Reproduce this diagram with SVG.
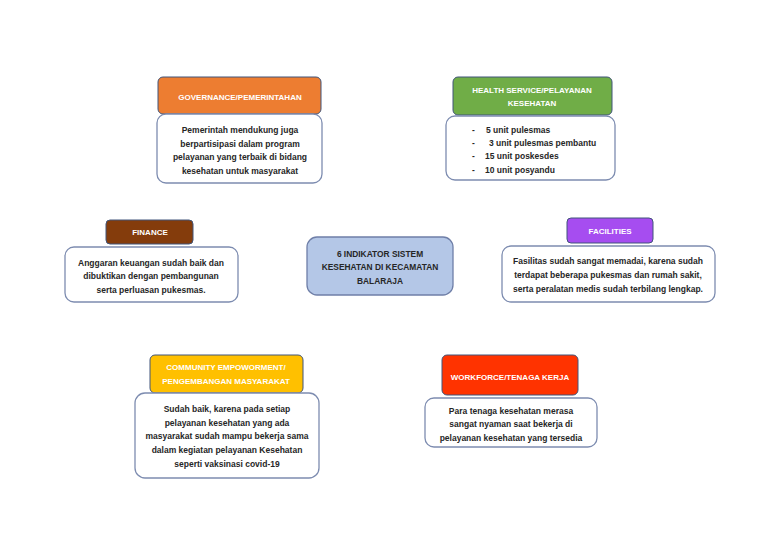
<svg xmlns="http://www.w3.org/2000/svg" width="768" height="543" viewBox="0 0 768 543">
<style>
.hd{stroke:#41557a;stroke-width:1}
.bd{fill:#fff;stroke:#7d8cb0;stroke-width:1.3}
.ht{font-family:"Liberation Sans",Arial,sans-serif;font-size:8px;fill:#fff;text-anchor:middle;font-weight:bold}
.bt{font-family:"Liberation Sans",Arial,sans-serif;font-size:8.5px;fill:#262626;text-anchor:middle;font-weight:bold}
.bl{font-family:"Liberation Sans",Arial,sans-serif;font-size:8.5px;fill:#262626;font-weight:bold}
.ct{font-family:"Liberation Sans",Arial,sans-serif;font-size:8.4px;fill:#262626;text-anchor:middle;font-weight:bold}
</style>
<rect width="768" height="543" fill="#fff"/>
<g id="connectors"></g>
<g id="governance">
<rect class="hd" x="158" y="77" width="163" height="37" rx="5" fill="#ed7d31"/>
<text class="ht" x="240" y="100">GOVERNANCE/PEMERINTAHAN</text>
<rect class="bd" x="157" y="114" width="165" height="69" rx="9"/>
<text class="bt" x="240" y="133">Pemerintah mendukung juga</text>
<text class="bt" x="240" y="147">berpartisipasi dalam program</text>
<text class="bt" x="240" y="160">pelayanan yang terbaik di bidang</text>
<text class="bt" x="240" y="174">kesehatan untuk masyarakat</text>
</g>
<g id="health">
<rect class="hd" x="453" y="77" width="159" height="38" rx="5" fill="#70ad47"/>
<text class="ht" x="532" y="93">HEALTH SERVICE/PELAYANAN</text>
<text class="ht" x="532" y="106">KESEHATAN</text>
<rect class="bd" x="446" y="116" width="169" height="64" rx="9"/>
<text class="bl" x="472" y="133">-</text><text class="bl" x="486" y="133">5 unit pulesmas</text>
<text class="bl" x="472" y="146">-</text><text class="bl" x="489" y="146">3 unit pulesmas pembantu</text>
<text class="bl" x="472" y="159">-</text><text class="bl" x="485" y="159">15 unit poskesdes</text>
<text class="bl" x="472" y="173">-</text><text class="bl" x="485" y="173">10 unit posyandu</text>
</g>
<g id="finance">
<rect class="hd" x="106" y="220" width="87" height="24" rx="4" fill="#843c0c"/>
<text class="ht" x="150" y="235">FINANCE</text>
<rect class="bd" x="65" y="247" width="173" height="55" rx="9"/>
<text class="bt" x="151" y="266">Anggaran keuangan sudah baik dan</text>
<text class="bt" x="151" y="279">dibuktikan dengan pembangunan</text>
<text class="bt" x="151" y="293">serta perluasan pukesmas.</text>
</g>
<g id="center">
<rect x="307" y="237" width="146" height="58" rx="10" fill="#b4c7e7" stroke="#6f7fa8" stroke-width="1.3"/>
<text class="ct" x="380" y="257">6 INDIKATOR SISTEM</text>
<text class="ct" x="380" y="270">KESEHATAN DI KECAMATAN</text>
<text class="ct" x="380" y="284">BALARAJA</text>
</g>
<g id="facilities">
<rect class="hd" x="567" y="218" width="86" height="25" rx="4" fill="#a64df0"/>
<text class="ht" x="610" y="234">FACILITIES</text>
<rect class="bd" x="502" y="246" width="213" height="56" rx="9"/>
<text class="bt" x="608" y="264">Fasilitas sudah sangat memadai, karena sudah</text>
<text class="bt" x="608" y="278">terdapat beberapa pukesmas dan rumah sakit,</text>
<text class="bt" x="608" y="292">serta peralatan medis sudah terbilang lengkap.</text>
</g>
<g id="community">
<rect class="hd" x="150" y="355" width="153" height="38" rx="5" fill="#ffc000"/>
<text class="ht" x="226" y="370">COMMUNITY EMPOWORMENT/</text>
<text class="ht" x="226" y="384">PENGEMBANGAN MASYARAKAT</text>
<rect class="bd" x="135" y="393" width="184" height="85" rx="10"/>
<text class="bt" x="227" y="412">Sudah baik, karena pada setiap</text>
<text class="bt" x="227" y="426">pelayanan kesehatan yang ada</text>
<text class="bt" x="227" y="439">masyarakat sudah mampu bekerja sama</text>
<text class="bt" x="227" y="453">dalam kegiatan pelayanan Kesehatan</text>
<text class="bt" x="227" y="467">seperti vaksinasi covid-19</text>
</g>
<g id="workforce">
<rect class="hd" x="442" y="355" width="136" height="40" rx="5" fill="#ff3300"/>
<text class="ht" x="510" y="380">WORKFORCE/TENAGA KERJA</text>
<rect class="bd" x="425" y="398" width="172" height="49" rx="9"/>
<text class="bt" x="511" y="414">Para tenaga kesehatan merasa</text>
<text class="bt" x="511" y="427">sangat nyaman saat bekerja di</text>
<text class="bt" x="511" y="441">pelayanan kesehatan yang tersedia</text>
</g>
</svg>
